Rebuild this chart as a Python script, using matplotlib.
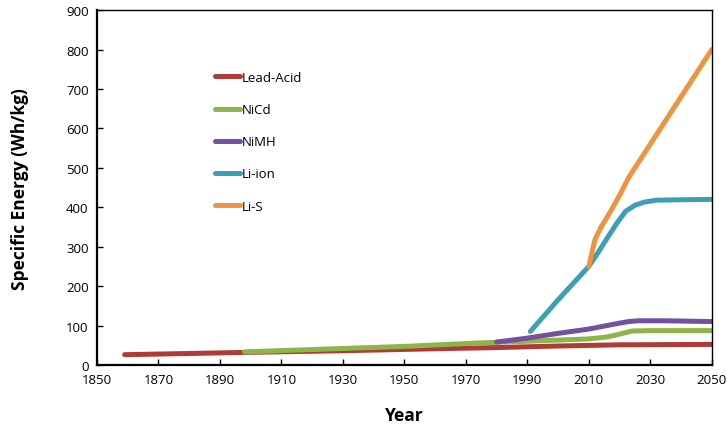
import matplotlib.pyplot as plt

# Specific energy of battery chemistries (Wh/kg) by year
lead_years = [1859, 1880, 1900, 1930, 1960, 1980, 2000, 2020, 2050]
lead_vals = [26, 29, 32, 36, 41, 44, 48, 51, 52]

nicd_years = [1898, 1920, 1950, 1975, 1990, 2000, 2010, 2016, 2020, 2024, 2030, 2050]
nicd_vals = [33, 39, 47, 56, 60, 63, 66, 71, 78, 86, 87, 87]

nimh_years = [1980, 1990, 2000, 2010, 2016, 2020, 2023, 2026, 2035, 2050]
nimh_vals = [58, 68, 80, 91, 100, 106, 110, 112, 112, 110]

liion_years = [1991, 2000, 2010, 2013, 2016, 2019, 2022, 2025, 2028, 2032, 2040, 2050]
liion_vals = [85, 165, 250, 285, 322, 358, 390, 405, 413, 418, 419, 420]

lis_years = [2010, 2011, 2012, 2014, 2016, 2020, 2023, 2035, 2050]
lis_vals = [250, 285, 318, 350, 375, 430, 476, 620, 800]

series = [
    ("Lead-Acid", lead_years, lead_vals, "#b03a36"),
    ("NiCd", nicd_years, nicd_vals, "#8db54a"),
    ("NiMH", nimh_years, nimh_vals, "#7450a0"),
    ("Li-ion", liion_years, liion_vals, "#3b9fb5"),
    ("Li-S", lis_years, lis_vals, "#ee9440"),
]

plt.rcParams['font.family'] = ['Open Sans', 'DejaVu Sans']

fig = plt.figure(figsize=(7.27, 4.31), dpi=100)
ax = fig.add_axes([0.1334, 0.151, 0.8456, 0.823])

for name, xs, ys, color in series:
    ax.plot(xs, ys, color=color, linewidth=3.6, solid_capstyle='round',
            solid_joinstyle='round', label=name)

ax.set_xlim(1850, 2050)
ax.set_ylim(0, 900)
ax.set_xticks(range(1850, 2051, 20))
ax.set_yticks(range(0, 901, 100))
ax.tick_params(direction='in', length=4, width=1, labelsize=9.5, pad=6)

for side in ['left', 'bottom']:
    ax.spines[side].set_linewidth(1.6)
for side in ['top', 'right']:
    ax.spines[side].set_linewidth(1.0)

ax.set_xlabel("Year", fontsize=12.5, fontweight='bold')
ax.set_ylabel("Specific Energy (Wh/kg)", fontsize=12.5, fontweight='bold')
ax.xaxis.set_label_coords(0.5, -0.117)
ax.yaxis.set_label_coords(-0.11, 0.5)

leg = ax.legend(loc='upper left', bbox_to_anchor=(0.173, 0.862), frameon=False,
                fontsize=9.5, handlelength=1.9, handletextpad=0.1,
                labelspacing=1.45)

fig.savefig("out.png", dpi=100)
